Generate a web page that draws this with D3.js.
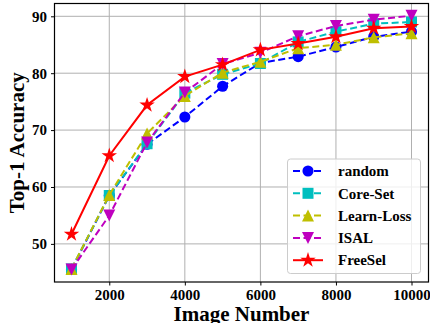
<!DOCTYPE html>
<html>
<head>
<meta charset="utf-8">
<script src="https://cdn.jsdelivr.net/npm/d3@7"></script>
<style>
  body { margin: 0; background: #fff; }
  svg text { font-family: "Liberation Serif", "Times New Roman", serif; font-weight: bold; }
</style>
</head>
<body>
<svg id="chart" width="430" height="323"></svg>
<script>
// data
var imageNumbers = [1000, 2000, 3000, 4000, 5000, 6000, 7000, 8000, 9000, 10000];
var randomAcc    = [45.5, 58.5, 67.5, 72.3, 77.7, 81.8, 82.9, 84.6, 86.4, 87.3];
var coreSetAcc   = [45.6, 58.5, 67.6, 76.5, 79.8, 81.7, 85.5, 87.3, 88.7, 89.0];
var learnLossAcc = [45.6, 58.6, 69.4, 76.0, 80.1, 82.0, 84.4, 85.0, 86.3, 87.0];
var isalAcc      = [45.5, 55.0, 67.8, 76.6, 81.6, 83.6, 86.5, 88.3, 89.4, 90.1];
var freeSelAcc   = [51.7, 65.5, 74.4, 79.4, 81.5, 84.1, 85.2, 86.4, 87.9, 88.2];
var xTicks = [2000, 4000, 6000, 8000, 10000];
var yTicks = [50, 60, 70, 80, 90];

var series = [
    { name: "random",     values: randomAcc,    color: "#0000ff", marker: "circle",  dashed: true },
    { name: "Core-Set",   values: coreSetAcc,   color: "#00bfbf", marker: "square",  dashed: true },
    { name: "Learn-Loss", values: learnLossAcc, color: "#bfbf00", marker: "triUp",   dashed: true },
    { name: "ISAL",       values: isalAcc,      color: "#bf00bf", marker: "triDown", dashed: true },
    { name: "FreeSel",    values: freeSelAcc,   color: "#ff0000", marker: "star",    dashed: false }
];

var svg = d3.select("#chart"),
    plotLeft = 54.5, plotRight = 428.5, plotTop = 3.5, plotBottom = 282;

var x = d3.scaleLinear().domain([550, 10450]).range([plotLeft, plotRight]);
var y = d3.scaleLinear().domain([43.3, 92.25]).range([plotBottom, plotTop]);

// marker shapes, centred on the bounding box like matplotlib
function markerPath(type, s) {
    var h = s / 2;
    if (type == "circle") return d3.symbol(d3.symbolCircle, Math.PI * h * h * 0.85)();
    if (type == "square") return "M" + -h + "," + -h + "H" + h + "V" + h + "H" + -h + "Z";
    if (type == "triUp") return "M0," + -h + "L" + h + "," + h + "L" + -h + "," + h + "Z";
    if (type == "triDown") return "M0," + h + "L" + h + "," + -h + "L" + -h + "," + -h + "Z";
    // star
    var pts = [];
    for (var i = 0; i < 10; i++) {
        var r = i % 2 ? h * 0.382 * 1.25 : h * 1.25,
            a = -Math.PI / 2 + i * Math.PI / 5;
        pts.push([r * Math.cos(a), r * Math.sin(a)]);
    }
    return "M" + pts.join("L") + "Z";
}
var markerSize = { circle: 12, square: 11, triUp: 12, triDown: 12, star: 13 };

// grid
svg.append("g").selectAll("line").data(xTicks).enter().append("line")
    .attr("x1", function (d) { return x(d); }).attr("x2", function (d) { return x(d); })
    .attr("y1", plotTop).attr("y2", plotBottom)
    .attr("stroke", "#b0b0b0").attr("stroke-width", 1);
svg.append("g").selectAll("line").data(yTicks).enter().append("line")
    .attr("y1", function (d) { return y(d); }).attr("y2", function (d) { return y(d); })
    .attr("x1", plotLeft).attr("x2", plotRight)
    .attr("stroke", "#b0b0b0").attr("stroke-width", 1);

// axes
var xAxis = svg.append("g")
    .attr("transform", "translate(0," + plotBottom + ")")
    .call(d3.axisBottom(x).tickValues(xTicks).tickFormat(d3.format("d")).tickSize(3.5).tickPadding(4));
var yAxis = svg.append("g")
    .attr("transform", "translate(" + plotLeft + ",0)")
    .call(d3.axisLeft(y).tickValues(yTicks).tickFormat(d3.format("d")).tickSize(3.5).tickPadding(4));
[xAxis, yAxis].forEach(function (ax) {
    ax.select(".domain").remove();
    ax.selectAll("text").attr("font-size", 15).attr("fill", "#000")
        .style("font-family", "'Liberation Serif', serif").style("font-weight", "bold");
    ax.selectAll("line").attr("stroke", "#000");
});

// lines + markers
var line = d3.line()
    .x(function (d, i) { return x(imageNumbers[i]); })
    .y(function (d) { return y(d); });

series.forEach(function (s) {
    var g = svg.append("g");
    g.append("path")
        .attr("d", line(s.values))
        .attr("fill", "none")
        .attr("stroke", s.color)
        .attr("stroke-width", 2)
        .attr("stroke-dasharray", s.dashed ? "7,3.5" : null);
    g.selectAll("path.pt").data(s.values).enter().append("path")
        .attr("class", "pt")
        .attr("transform", function (d, i) { return "translate(" + x(imageNumbers[i]) + "," + y(d) + ")"; })
        .attr("d", markerPath(s.marker, markerSize[s.marker]))
        .attr("fill", s.color);
});

// frame
svg.append("rect")
    .attr("x", plotLeft).attr("y", plotTop)
    .attr("width", plotRight - plotLeft).attr("height", plotBottom - plotTop)
    .attr("fill", "none").attr("stroke", "#000").attr("stroke-width", 1.2);

// legend
var legend = svg.append("g");
legend.append("rect")
    .attr("x", 287.5).attr("y", 159).attr("width", 133).attr("height", 114.5)
    .attr("rx", 3)
    .attr("fill", "#fff").attr("fill-opacity", 0.8)
    .attr("stroke", "#cccccc").attr("stroke-width", 1);
var item = legend.selectAll("g.item").data(series).enter().append("g")
    .attr("class", "item")
    .attr("transform", function (d, i) { return "translate(0," + (171 + i * 22.3) + ")"; });
item.append("line")
    .attr("x1", 293).attr("x2", 323)
    .attr("stroke", function (d) { return d.color; })
    .attr("stroke-width", 2)
    .attr("stroke-dasharray", function (d) { return d.dashed ? "7,3.5" : null; });
item.append("path")
    .attr("transform", "translate(308,0)")
    .attr("d", function (d) { return markerPath(d.marker, markerSize[d.marker]); })
    .attr("fill", function (d) { return d.color; });
item.append("text")
    .attr("x", 338).attr("dy", "0.35em")
    .attr("font-size", 15)
    .text(function (d) { return d.name; });

// axis titles
svg.append("text")
    .attr("x", (plotLeft + plotRight) / 2).attr("y", 321)
    .attr("text-anchor", "middle").attr("font-size", 21)
    .text("Image Number");
svg.append("text")
    .attr("transform", "translate(24," + (plotTop + plotBottom) / 2 + ") rotate(-90)")
    .attr("text-anchor", "middle").attr("font-size", 21)
    .text("Top-1 Accuracy");
</script>
</body>
</html>
